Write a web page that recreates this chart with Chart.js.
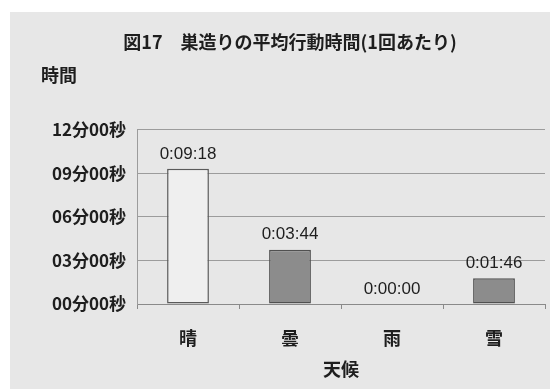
<!DOCTYPE html>
<html>
<head>
<meta charset="utf-8">
<script src="https://cdn.jsdelivr.net/npm/chart.js@4"></script>
<style>
  html, body { margin: 0; padding: 0; background: #fff; }
  #box { width: 550px; height: 389px; }
</style>
</head>
<body>
<div id="box"><canvas id="grafico"></canvas></div>
<script>
// 天候ごとの巣造り時間（秒）
const tenko = ['晴', '曇', '雨', '雪'];
const byou = [558, 224, 0, 106];
const yMax = 720;
const yStep = 180;

const barFill = ['#efefef', '#8c8c8c', '#8c8c8c', '#8c8c8c'];
const barLine = ['#5a5a5a', '#505050', '#505050', '#505050'];

const jp = '"Noto Sans CJK JP", "Noto Sans", sans-serif';

function pad2(n) { return (n < 10 ? '0' : '') + n; }

// 00分00秒
function fmtTick(v) {
    return pad2(Math.floor(v / 60)) + '分' + pad2(v % 60) + '秒';
}

// 0:00:00
function fmtLabel(v) {
    var h = Math.floor(v / 3600);
    var m = Math.floor((v % 3600) / 60);
    var s = v % 60;
    return h + ':' + pad2(m) + ':' + pad2(s);
}

// 灰色の下地
const paper = {
    id: 'paper',
    beforeDraw(chart) {
        var c = chart.ctx;
        c.save();
        c.fillStyle = '#ffffff';
        c.fillRect(0, 0, chart.width, chart.height);
        c.fillStyle = '#e7e7e7';
        c.fillRect(10, 12, chart.width - 10, chart.height - 12);
        c.restore();
    }
};

// 棒の上の値と「時間」の見出し
const etiquetas = {
    id: 'etiquetas',
    afterDatasetsDraw(chart) {
        var c = chart.ctx;
        var area = chart.chartArea;
        c.save();
        c.fillStyle = '#1e1e1e';
        c.textAlign = 'center';
        c.textBaseline = 'middle';
        c.font = '17px "Liberation Sans", Arial, sans-serif';
        chart.getDatasetMeta(0).data.forEach(function (bar, i) {
            c.fillText(fmtLabel(byou[i]), bar.x, bar.y - 15);
        });
        c.font = 'bold 18px ' + jp;
        c.fillText('時間', area.left - 78, area.top - 54);
        c.restore();
    }
};

window.onload = function () {
    var ctx = document.getElementById('grafico').getContext('2d');
    new Chart(ctx, {
        type: 'bar',
        data: {
            labels: tenko,
            datasets: [{
                data: byou,
                backgroundColor: barFill,
                borderColor: barLine,
                borderWidth: 1.5,
                borderSkipped: false,
                categoryPercentage: 1,
                barPercentage: 0.41
            }]
        },
        options: {
            responsive: true,
            maintainAspectRatio: false,
            animation: false,
            layout: { padding: { left: 35, right: 5, top: 0, bottom: 0 } },
            plugins: {
                legend: { display: false },
                tooltip: { enabled: false },
                title: {
                    display: true,
                    text: '図17　巣造りの平均行動時間(1回あたり)',
                    color: '#1e1e1e',
                    font: { family: jp, size: 18, weight: 'bold' },
                    padding: { top: 31, bottom: 77 }
                }
            },
            scales: {
                x: {
                    afterFit(scale) { scale.height = 85; },
                    grid: {
                        offset: true,
                        drawOnChartArea: false,
                        drawTicks: true,
                        tickLength: 5,
                        color: '#8a8a8a'
                    },
                    border: { color: '#8a8a8a', width: 1 },
                    ticks: {
                        color: '#1e1e1e',
                        padding: 18,
                        font: { family: jp, size: 18, weight: 'bold' }
                    },
                    title: {
                        display: true,
                        text: '天候',
                        color: '#1e1e1e',
                        font: { family: jp, size: 18, weight: 'bold' },
                        padding: { top: 9, bottom: 9 }
                    }
                },
                y: {
                    min: 0,
                    max: yMax,
                    afterFit(scale) { scale.width = 102; },
                    grid: { color: '#9c9c9c', lineWidth: 1, drawTicks: false },
                    border: { color: '#9c9c9c', width: 1 },
                    ticks: {
                        stepSize: yStep,
                        padding: 11,
                        color: '#1e1e1e',
                        font: { family: jp, size: 17, weight: 'bold' },
                        callback: function (v) { return fmtTick(v); }
                    }
                }
            }
        },
        plugins: [paper, etiquetas]
    });
};
</script>
</body>
</html>
